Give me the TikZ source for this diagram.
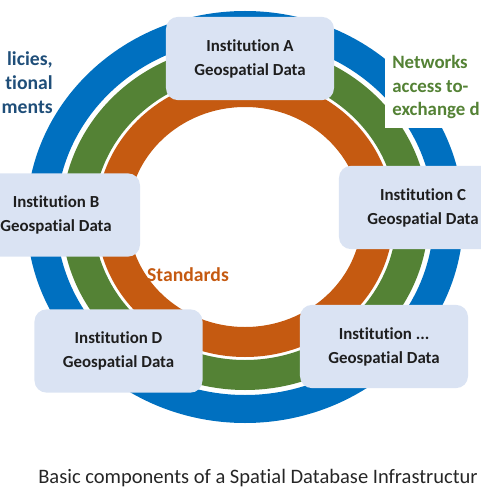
\documentclass[tikz,border=0pt]{standalone}
\usepackage{fontspec}
\setmainfont{Carlito}[Ligatures=NoCommon]
\usepackage{tikz}
\usetikzlibrary{positioning}
\definecolor{ringblue}{HTML}{0070C0}
\definecolor{ringgreen}{HTML}{548235}
\definecolor{ringorange}{HTML}{C55A11}
\definecolor{boxfill}{HTML}{DAE3F3}
\definecolor{policyblue}{HTML}{1F4E79}
\definecolor{darktext}{HTML}{1E1E1E}
\definecolor{captiongray}{HTML}{262626}

\tikzset{
  inst/.style={fill=boxfill, rounded corners=0.3cm, minimum width=4.2cm,
    minimum height=2.08cm, align=center, text=darktext,
    font=\bfseries\fontsize{12}{17}\selectfont},
  ringlabel/.style={font=\bfseries\fontsize{14}{17}\selectfont}
}

\begin{document}
\begin{tikzpicture}[x=0.025cm, y=-0.025cm]
  \useasboundingbox (0,0) rectangle (480,504);
  \coordinate (ctr) at (245,217);

  % the three rings
  \foreach \col/\outr/\innr in {ringblue/206/178, ringgreen/173/143, ringorange/140/110}
    \fill[\col, even odd rule] (ctr) ellipse[x radius=1.06*\outr, y radius=\outr]
      (ctr) ellipse[x radius=1.06*\innr, y radius=\innr];

  % ring labels
  \node[ringlabel, text=policyblue, align=right, anchor=east, inner sep=0pt] (policies) at (53,83) {licies,\\tional\\ments};
  \node[ringlabel, text=ringgreen, fill=white, align=left, anchor=west, inner xsep=5pt, inner ysep=6pt, font=\bfseries\fontsize{13.4}{17}\selectfont] (networks) at (385,87) {Networks\\access to-\\exchange d};
  \node[ringlabel, text=ringorange] (standards) at (188,275) {Standards};

  % institutions
  \node[inst] (instA) at (250,58.5) {Institution A\\Geospatial Data};
  \node[inst] (instB) at (56,215) {Institution B\\Geospatial Data};
  \node[inst] (instC) at (423,207.5) {Institution C\\Geospatial Data};
  \node[inst] (instD) at (118.5,351) {Institution D\\Geospatial Data};
  \node[inst] (instE) at (384,346.5) {Institution ...\\Geospatial Data};

  \node[anchor=base west, inner sep=0pt, text=captiongray, font=\fontsize{14.6}{17}\selectfont] (caption) at (38,483) {Basic components of a Spatial Database Infrastructur};
\end{tikzpicture}
\end{document}
